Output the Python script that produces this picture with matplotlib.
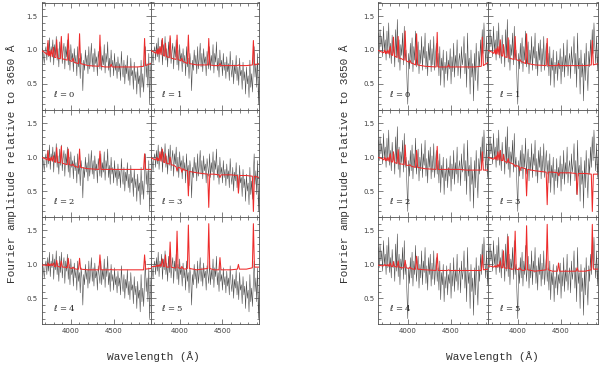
import numpy as np
import matplotlib
matplotlib.use('Agg')
import matplotlib.pyplot as plt
from matplotlib.ticker import MultipleLocator

# ===========================
# Data
# ===========================
# observed amplitude spectra (one per group), sampled every 10 A from 3650 to 4950
obs_wave = np.arange(3650, 4951, 10)

obs_left = [
    0.95, 0.88, 1.02, 0.92, 0.80, 0.98, 1.05, 0.85, 1.10, 0.90,
    1.18, 0.82, 1.05, 0.95, 1.15, 0.78, 1.08, 0.92, 1.20, 0.85,
    1.02, 0.75, 1.12, 0.88, 1.18, 0.80, 0.98, 1.10, 0.72, 1.05,
    0.90, 1.15, 0.78, 1.00, 0.70, 1.08, 0.85, 0.95, 0.68, 1.02,
    0.80, 0.92, 0.62, 1.05, 0.75, 0.88, 0.58, 0.95, 0.80, 0.40,
    0.85, 0.70, 1.00, 0.78, 0.92, 0.65, 1.05, 0.72, 0.88, 1.10,
    0.75, 0.95, 0.68, 1.02, 0.80, 0.90, 0.62, 0.98, 0.85, 0.72,
    1.05, 0.70, 0.92, 0.78, 1.08, 0.66, 0.95, 0.82, 1.12, 0.70,
    0.88, 0.60, 1.00, 0.75, 0.85, 0.62, 0.95, 0.70, 0.82, 0.58,
    0.90, 0.68, 0.80, 0.55, 0.98, 0.72, 0.60, 0.85, 0.50, 0.78,
    0.65, 0.92, 0.55, 0.75, 0.48, 0.88, 0.62, 0.70, 0.42, 0.82,
    0.55, 0.68, 0.35, 0.75, 0.50, 0.62, 0.30, 0.85, 0.45, 0.65,
    0.38, 0.72, 1.05, 0.60, 0.80, 0.45, 0.95, 0.20, 0.70, 0.85,
    0.80]

obs_right = [
    1.10, 1.25, 0.95, 1.30, 1.05, 1.20, 0.90, 1.35, 1.00, 1.15,
    0.85, 1.28, 0.95, 1.40, 0.88, 1.10, 0.80, 1.22, 0.95, 1.05,
    0.75, 1.30, 0.90, 1.45, 0.82, 1.15, 0.70, 1.08, 0.92, 1.25,
    0.78, 1.35, 0.85, 1.00, 0.60, 0.20, 0.95, 0.72, 1.10, 0.80,
    1.18, 0.68, 1.05, 0.85, 1.28, 0.75, 0.95, 1.12, 0.65, 1.00,
    0.80, 1.20, 0.70, 1.05, 0.88, 1.25, 0.72, 0.98, 0.62, 1.10,
    0.85, 1.15, 0.68, 1.02, 0.78, 1.20, 0.70, 0.92, 1.10, 0.75,
    0.95, 0.62, 1.05, 0.48, 0.88, 0.70, 1.00, 0.45, 0.82, 0.65,
    0.98, 0.55, 0.85, 0.72, 1.02, 0.50, 0.90, 0.68, 1.10, 0.60,
    0.92, 0.75, 1.15, 0.62, 0.85, 0.95, 0.58, 1.05, 0.78, 0.90,
    1.20, 0.65, 0.95, 0.45, 1.25, 0.72, 0.88, 0.35, 1.00, 0.60,
    0.80, 0.25, 0.95, 0.55, 1.10, 0.70, 0.40, 0.98, 0.75, 1.15,
    0.85, 1.30, 0.95, 1.40, 1.05, 0.80, 1.20, 0.70, 1.10, 0.90,
    1.00]

# model curves, sampled at line centres and their wings
model_wave = [3650, 3700, 3724, 3734, 3744, 3750, 3760, 3771, 3784, 3798,
              3810, 3825, 3835, 3847, 3877, 3889, 3901, 3930, 3958, 3970,
              3982, 4014, 4026, 4038, 4060, 4090, 4102, 4114, 4200, 4328,
              4340, 4352, 4400, 4459, 4471, 4483, 4600, 4674, 4686, 4698,
              4780, 4849, 4861, 4873, 4930]

model_left = [
    [1.00, 0.96, 0.93, 1.14, 0.92, 0.98, 0.91, 1.00, 0.90, 1.04, 0.89, 0.89, 1.15, 0.88, 0.87,
     1.20, 0.87, 0.86, 0.85, 1.24, 0.85, 0.83, 0.88, 0.82, 0.81, 0.80, 1.24, 0.80, 0.77, 0.76,
     1.22, 0.76, 0.75, 0.75, 0.79, 0.75, 0.75, 0.75, 0.75, 0.75, 0.75, 0.76, 1.17, 0.77, 0.80],
    [1.00, 0.97, 0.95, 1.00, 0.94, 1.02, 0.94, 1.05, 0.93, 1.17, 0.92, 0.91, 1.10, 0.90, 0.89,
     1.21, 0.88, 0.87, 0.86, 1.22, 0.86, 0.84, 0.88, 0.83, 0.82, 0.80, 1.22, 0.80, 0.78, 0.78,
     1.17, 0.78, 0.77, 0.77, 0.80, 0.77, 0.77, 0.77, 0.78, 0.77, 0.77, 0.78, 1.14, 0.78, 0.80],
    [1.00, 0.98, 0.96, 1.10, 0.95, 0.98, 0.95, 1.00, 0.94, 1.02, 0.93, 0.93, 1.14, 0.92, 0.92,
     1.16, 0.91, 0.90, 0.89, 1.12, 0.89, 0.88, 0.90, 0.87, 0.86, 0.85, 1.12, 0.85, 0.83, 0.82,
     1.09, 0.82, 0.82, 0.82, 0.83, 0.82, 0.82, 0.82, 0.82, 0.82, 0.82, 0.82, 1.05, 0.82, 0.82],
    [1.00, 0.97, 0.96, 1.00, 0.95, 0.98, 0.95, 1.08, 0.94, 1.12, 0.93, 0.92, 1.05, 0.91, 0.90,
     1.00, 0.89, 0.88, 0.86, 0.80, 0.85, 0.84, 0.78, 0.83, 0.81, 0.80, 0.43, 0.79, 0.77, 0.75,
     0.26, 0.75, 0.75, 0.74, 0.70, 0.74, 0.74, 0.73, 0.47, 0.73, 0.73, 0.72, 0.20, 0.72, 0.70],
    [0.99, 0.99, 0.98, 1.02, 0.98, 1.00, 0.98, 1.01, 0.98, 1.02, 0.97, 0.97, 1.06, 0.97, 0.96,
     1.05, 0.96, 0.96, 0.95, 1.09, 0.95, 0.94, 0.96, 0.94, 0.93, 0.93, 1.09, 0.93, 0.92, 0.92,
     1.14, 0.92, 0.92, 0.92, 0.93, 0.92, 0.92, 0.92, 0.92, 0.92, 0.92, 0.92, 1.14, 0.93, 0.94],
    [0.96, 0.97, 0.97, 0.99, 0.97, 0.99, 0.97, 1.00, 0.97, 1.08, 0.97, 0.97, 1.14, 0.96, 0.96,
     1.33, 0.96, 0.95, 0.95, 1.49, 0.95, 0.94, 0.97, 0.94, 0.93, 0.94, 1.58, 0.94, 0.92, 0.94,
     1.60, 0.94, 0.92, 0.92, 1.10, 0.92, 0.92, 0.93, 1.00, 0.93, 0.93, 0.95, 1.60, 0.96, 0.96],
]

model_right = [
    [1.00, 0.97, 0.96, 1.00, 0.95, 0.98, 0.95, 1.00, 0.94, 1.05, 0.93, 0.92, 1.19, 0.91, 0.89,
     1.20, 0.88, 0.87, 0.85, 1.28, 0.84, 0.82, 0.85, 0.81, 0.80, 0.78, 1.24, 0.78, 0.76, 0.75,
     1.26, 0.75, 0.75, 0.75, 0.78, 0.75, 0.75, 0.75, 0.75, 0.75, 0.75, 0.76, 1.19, 0.77, 0.82],
    [1.00, 0.97, 0.95, 1.00, 0.94, 1.02, 0.94, 1.05, 0.93, 1.15, 0.92, 0.91, 1.08, 0.90, 0.89,
     1.18, 0.88, 0.87, 0.86, 1.20, 0.86, 0.84, 0.86, 0.83, 0.82, 0.80, 1.24, 0.80, 0.78, 0.77,
     1.17, 0.77, 0.77, 0.77, 0.80, 0.77, 0.77, 0.77, 0.77, 0.77, 0.77, 0.78, 1.14, 0.78, 0.80],
    [1.00, 0.98, 0.96, 1.00, 0.95, 0.98, 0.95, 1.00, 0.94, 1.05, 0.93, 0.93, 1.08, 0.92, 0.91,
     1.11, 0.90, 0.90, 0.89, 1.18, 0.88, 0.88, 0.89, 0.87, 0.86, 0.85, 1.10, 0.85, 0.83, 0.82,
     1.16, 0.82, 0.82, 0.82, 0.83, 0.82, 0.82, 0.81, 0.81, 0.81, 0.81, 0.81, 1.08, 0.81, 0.81],
    [1.00, 0.98, 0.97, 1.00, 0.97, 1.02, 0.96, 1.08, 0.96, 1.10, 0.95, 0.95, 1.04, 0.94, 0.92,
     0.98, 0.92, 0.91, 0.89, 0.86, 0.88, 0.86, 0.80, 0.85, 0.84, 0.83, 0.43, 0.82, 0.80, 0.78,
     0.30, 0.78, 0.78, 0.77, 0.73, 0.77, 0.77, 0.76, 0.45, 0.76, 0.76, 0.75, 0.20, 0.75, 0.75],
    [0.99, 0.98, 0.98, 1.00, 0.98, 0.99, 0.98, 1.00, 0.97, 1.02, 0.97, 0.97, 1.04, 0.97, 0.96,
     1.05, 0.96, 0.95, 0.95, 1.06, 0.95, 0.94, 0.96, 0.94, 0.93, 0.93, 1.12, 0.93, 0.92, 0.91,
     1.16, 0.91, 0.91, 0.91, 0.92, 0.91, 0.91, 0.91, 0.91, 0.91, 0.91, 0.91, 1.14, 0.92, 0.93],
    [0.98, 0.97, 0.96, 0.98, 0.96, 0.98, 0.96, 1.00, 0.96, 1.05, 0.95, 0.95, 1.20, 0.95, 0.94,
     1.41, 0.94, 0.93, 0.93, 1.49, 0.93, 0.92, 0.95, 0.92, 0.91, 0.92, 1.57, 0.92, 0.90, 0.92,
     1.59, 0.92, 0.90, 0.90, 1.02, 0.90, 0.90, 0.90, 0.95, 0.90, 0.90, 0.92, 1.59, 0.93, 0.93],
]

ell_values = [0, 1, 2, 3, 4, 5]
ylabel = "Fourier amplitude relative to 3650 \u00c5"
xlabel = "Wavelength (\u00c5)"

# ===========================
# Layout (pixel geometry of the 600x365 figure)
# ===========================
W, H = 600, 365
fig = plt.figure(figsize=(W / 100, H / 100), dpi=100)

label_font = dict(family='Liberation Mono', size=8, color='0.2')
tick_color = '0.3'


def panel(x0, y0, w, h, obs, model, ell, show_x, show_y):
    ax = fig.add_axes([x0 / W, 1 - (y0 + h) / H, w / W, h / H])
    ax.plot(obs_wave, obs, color='0.3', lw=0.4, zorder=2)
    ax.plot(model_wave, model, color='#ee2a2a', lw=0.75, zorder=3)
    ax.set_xlim(3660, 4930)
    ax.set_ylim(0.12, 1.7)
    ax.xaxis.set_major_locator(MultipleLocator(500))
    ax.xaxis.set_minor_locator(MultipleLocator(100))
    ax.yaxis.set_major_locator(MultipleLocator(0.5))
    ax.yaxis.set_minor_locator(MultipleLocator(0.1))
    ax.tick_params(which='both', direction='in', top=True, right=True,
                   color=tick_color, width=0.5, labelsize=5, labelcolor='0.25', pad=3)
    ax.tick_params(which='major', length=3.5)
    ax.tick_params(which='minor', length=1.8)
    ax.tick_params(labelbottom=show_x, labelleft=show_y)
    for s in ax.spines.values():
        s.set_linewidth(0.6)
        s.set_color('0.3')
    ax.text(0.1, 0.12, r'$\ell$ = %d' % ell, transform=ax.transAxes,
            fontsize=6, family='DejaVu Serif', color='0.15')
    return ax


groups = [(41.7, 108.8, obs_left, model_left, 12, 153),
          (378.3, 110.0, obs_right, model_right, 345, 492)]
top, row_h = 2.5, 107.2

for gx, pw, obs, models, ylab_x, xlab_x in groups:
    for i, ell in enumerate(ell_values):
        row, col = divmod(i, 2)
        panel(gx + col * pw, top + row * row_h, pw, row_h, obs, models[i], ell,
              show_x=(row == 2), show_y=(col == 0))
    fig.text(ylab_x / W, 1 - (top + 1.5 * row_h) / H, ylabel, rotation=90,
             ha='center', va='center', **label_font)
    fig.text(xlab_x / W, 1 - 357 / H, xlabel, ha='center', va='center', **label_font)

fig.savefig('out.png', dpi=100)
